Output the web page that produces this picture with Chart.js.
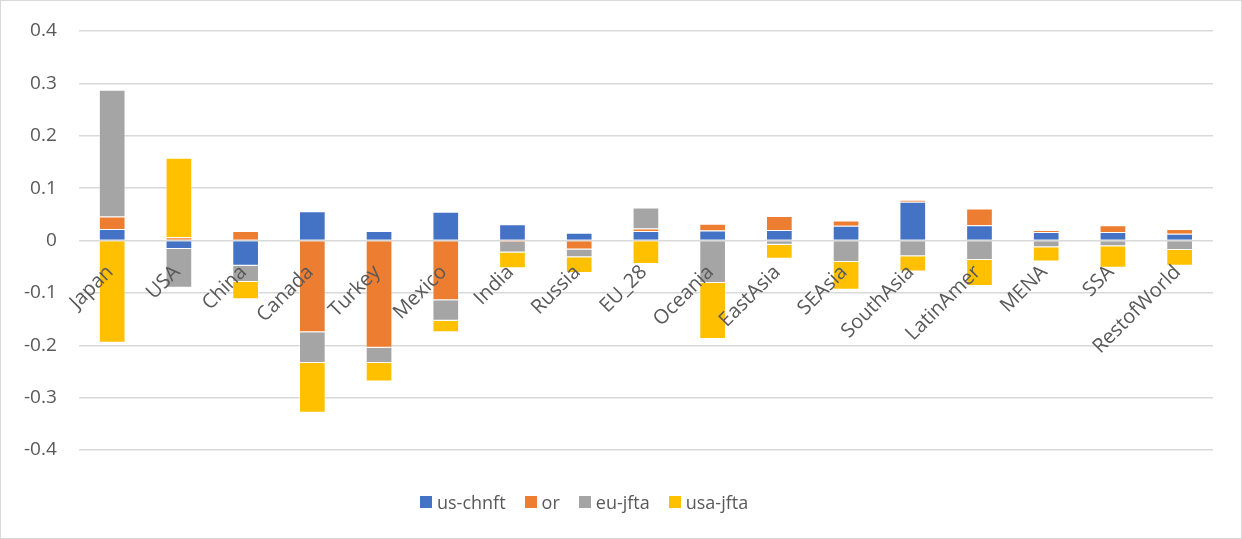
<!DOCTYPE html>
<html>
<head>
<meta charset="utf-8">
<script src="https://cdn.jsdelivr.net/npm/chart.js@4/dist/chart.umd.min.js"></script>
<style>
  html, body { margin: 0; padding: 0; background: #fff; }
  #wrap {
    width: 1242px; height: 539px; box-sizing: border-box;
    border: 1px solid #d9d9d9; position: relative;
  }
  #legend {
    position: absolute; left: 419px; top: 489px;
    display: flex; align-items: center;
    font: 18px "Open Sans", "Noto Sans", sans-serif; color: #595959;
  }
  #legend .item { display: flex; align-items: center; margin-right: 19px; }
  #legend .box { width: 12px; height: 12px; margin-right: 5px; }
</style>
</head>
<body>
<div id="wrap">
  <canvas id="chart" width="1240" height="537"></canvas>
  <div id="legend"></div>
</div>
<script>
// regions and the four scenario series
const regions = ['Japan', 'USA', 'China', 'Canada', 'Turkey', 'Mexico', 'India', 'Russia', 'EU_28',
  'Oceania', 'EastAsia', 'SEAsia', 'SouthAsia', 'LatinAmer', 'MENA', 'SSA', 'RestofWorld'];

const usChnft = [0.022, -0.016, -0.048, 0.056, 0.018, 0.055, 0.031, 0.015, 0.018,
  0.019, 0.020, 0.028, 0.074, 0.029, 0.016, 0.016, 0.013];
const orVals = [0.024, 0.006, 0.018, -0.175, -0.205, -0.114, -0.003, -0.017, 0.005,
  0.013, 0.027, 0.010, 0.004, 0.032, 0.004, 0.013, 0.009];
const euJfta = [0.242, -0.074, -0.031, -0.059, -0.029, -0.039, -0.020, -0.015, 0.040,
  -0.081, -0.008, -0.041, -0.030, -0.037, -0.013, -0.011, -0.018];
const usaJfta = [-0.195, 0.152, -0.033, -0.095, -0.035, -0.022, -0.030, -0.030, -0.045,
  -0.107, -0.027, -0.053, -0.029, -0.050, -0.027, -0.041, -0.030];

const yTicks = [-0.4, -0.3, -0.2, -0.1, 0, 0.1, 0.2, 0.3, 0.4];

const textColor = '#595959';
const fontFamily = '"Open Sans", "Noto Sans", sans-serif';

function series(label, data, color) {
  return {
    label: label,
    data: data,
    backgroundColor: color,
    borderColor: 'rgba(255,255,255,0.5)',
    borderWidth: 1,
    categoryPercentage: 1.0,
    barPercentage: 0.4
  };
}

const chart = new Chart(document.getElementById('chart'), {
  type: 'bar',
  data: {
    labels: regions,
    datasets: [
      series('us-chnft', usChnft, '#4472C4'),
      series('or', orVals, '#ED7D31'),
      series('eu-jfta', euJfta, '#A5A5A5'),
      series('usa-jfta', usaJfta, '#FFC000')
    ]
  },
  options: {
    responsive: false,
    animation: false,
    layout: { padding: { top: 30, right: 28, left: 1, bottom: 88 } },
    scales: {
      x: {
        stacked: true,
        position: { y: 0 },
        grid: { display: false },
        border: { display: false },
        ticks: {
          z: 1, // category names sit on top of the bars
          autoSkip: false,
          minRotation: 45,
          maxRotation: 45,
          color: textColor,
          padding: 12,
          labelOffset: -2,
          font: { family: fontFamily, size: 20 }
        }
      },
      y: {
        stacked: true,
        min: -0.4,
        max: 0.4,
        afterBuildTicks: function(scale) {
          scale.ticks = yTicks.map(v => ({ value: v }));
        },
        // the layout padding alone decides where the plot area starts
        afterFit: function(scale) {
          scale.paddingTop = 0;
          scale.paddingBottom = 0;
        },
        grid: { color: '#d9d9d9', lineWidth: 1.5, drawTicks: false },
        border: { display: false },
        ticks: {
          color: textColor,
          padding: 22,
          font: { family: fontFamily, size: 19 },
          callback: v => String(Math.round(v * 10) / 10)
        }
      }
    },
    plugins: {
      legend: { display: false },
      tooltip: { enabled: false }
    }
  }
});

// legend row built from the datasets
const legendEl = document.getElementById('legend');
chart.data.datasets.forEach(ds => {
  const item = document.createElement('div');
  item.className = 'item';
  const box = document.createElement('span');
  box.className = 'box';
  box.style.background = ds.backgroundColor;
  const txt = document.createElement('span');
  txt.textContent = ds.label;
  item.appendChild(box);
  item.appendChild(txt);
  legendEl.appendChild(item);
});
</script>
</body>
</html>
